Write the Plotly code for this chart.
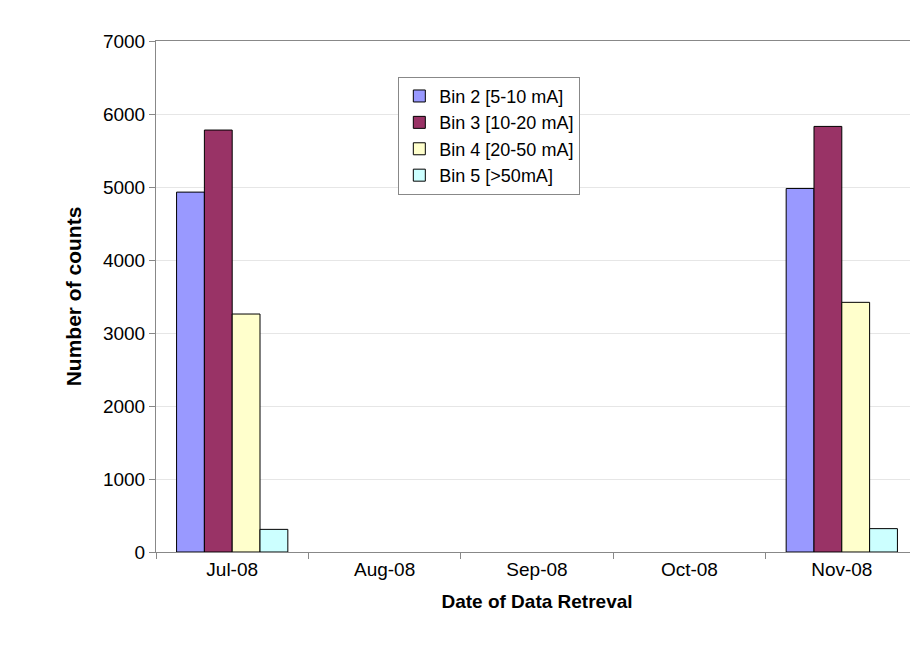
import plotly.graph_objects as go

categories = ["Jul-08", "Aug-08", "Sep-08", "Oct-08", "Nov-08"]
series_names = ["Bin 2 [5-10 mA]", "Bin 3 [10-20 mA]", "Bin 4 [20-50 mA]", "Bin 5 [>50mA]"]
bin2 = [4930, None, None, None, 4980]
bin3 = [5780, None, None, None, 5830]
bin4 = [3260, None, None, None, 3420]
bin5 = [310, None, None, None, 320]
colors = ["#9999FF", "#993366", "#FFFFCC", "#CCFFFF"]

fig = go.Figure()
for name, vals, c in zip(series_names, [bin2, bin3, bin4, bin5], colors):
    fig.add_bar(x=categories, y=vals, name=name, marker=dict(color=c, line=dict(color="black", width=1)))

fig.update_layout(
    width=918, height=668, barmode="group", bargap=0.27, bargroupgap=0,
    paper_bgcolor="white", plot_bgcolor="white",
    margin=dict(l=148, r=8, t=33, b=124),
    font=dict(family="Liberation Sans, Arial", size=19, color="black"),
    xaxis=dict(title=dict(text="<b>Date of Data Retreval</b>", font=dict(size=19)),
               categoryorder="array", categoryarray=categories,
               showline=True, linecolor="#888", ticks="outside", tickson="boundaries",
               tickcolor="#888", ticklen=6, mirror=True),
    yaxis=dict(title=dict(text="<b>Number of counts</b>", font=dict(size=21)),
               range=[0, 7000], dtick=1000, showgrid=True, gridcolor="#e6e6e6",
               showline=True, linecolor="#888", ticks="outside", tickcolor="#888", ticklen=6, mirror=True),
    legend=dict(x=0.318, y=0.93, xanchor="left", yanchor="top", bgcolor="white",
                bordercolor="#888", borderwidth=1, font=dict(size=18)),
)
fig.write_html("out.html")
